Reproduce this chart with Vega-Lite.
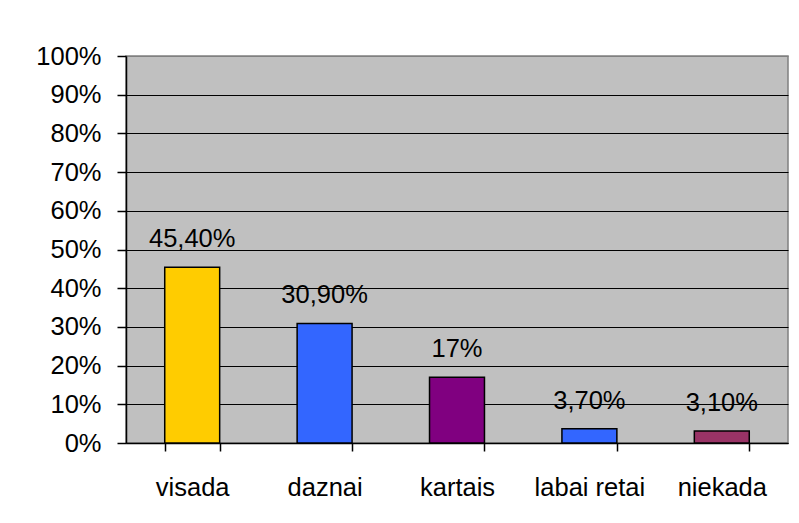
{
  "$schema": "https://vega.github.io/schema/vega-lite/v6.json",
  "autosize": "none",
  "width": 662,
  "height": 387,
  "padding": {"left": 126, "top": 56, "right": 11, "bottom": 80},
  "background": "white",
  "config": {
    "font": "Liberation Sans",
    "view": {"fill": "#C0C0C0", "stroke": "#808080", "strokeWidth": 1.5},
    "axis": {"ticks": true, "tickColor": "black", "tickWidth": 1.5, "tickOpacity": 1}
  },
  "data": {
    "values": [
      {"kategorija": "visada", "vertiba": 0.454, "teksts": "45,40%"},
      {"kategorija": "daznai", "vertiba": 0.309, "teksts": "30,90%"},
      {"kategorija": "kartais", "vertiba": 0.17, "teksts": "17%"},
      {"kategorija": "labai retai", "vertiba": 0.037, "teksts": "3,70%"},
      {"kategorija": "niekada", "vertiba": 0.031, "teksts": "3,10%"}
    ]
  },
  "encoding": {
    "x": {
      "field": "kategorija",
      "type": "nominal",
      "sort": null,
      "scale": {"paddingInner": 0.585, "paddingOuter": 0.2925},
      "axis": {
        "title": null,
        "tickBand": "extent",
        "labelAngle": 0,
        "labelFontSize": 25.5,
        "labelColor": "black",
        "labelBaseline": "alphabetic",
        "labelPadding": 44,
        "labelOverlap": false,
        "ticks": true,
        "tickSize": 8,
        "tickColor": "black",
        "tickWidth": 1.5,
        "tickOpacity": 1,
        "domainColor": "black",
        "domainWidth": 1.5,
        "grid": false
      }
    },
    "y": {
      "field": "vertiba",
      "type": "quantitative",
      "scale": {"domain": [0, 1], "nice": false},
      "axis": {
        "title": null,
        "format": ".0%",
        "tickCount": 10,
        "labelOverlap": false,
        "labelFontSize": 25.5,
        "labelColor": "black",
        "labelPadding": 16,
        "tickSize": 9,
        "tickColor": "black",
        "tickWidth": 1.5,
        "domainColor": "black",
        "domainWidth": 1.5,
        "grid": true,
        "gridColor": {"condition": {"test": "datum.value == 1", "value": "#808080"}, "value": "black"},
        "gridWidth": 1.2,
        "gridOpacity": 1
      }
    }
  },
  "layer": [
    {
      "mark": {"type": "bar", "stroke": "black", "strokeWidth": 1.5},
      "encoding": {
        "color": {
          "field": "kategorija",
          "type": "nominal",
          "legend": null,
          "scale": {
            "domain": ["visada", "daznai", "kartais", "labai retai", "niekada"],
            "range": ["#FFCC00", "#3366FF", "#800080", "#3366FF", "#993366"]
          }
        }
      }
    },
    {
      "mark": {"type": "text", "fontSize": 25.5, "color": "black", "baseline": "alphabetic", "dy": -20},
      "encoding": {
        "text": {"field": "teksts"}
      }
    }
  ]
}
